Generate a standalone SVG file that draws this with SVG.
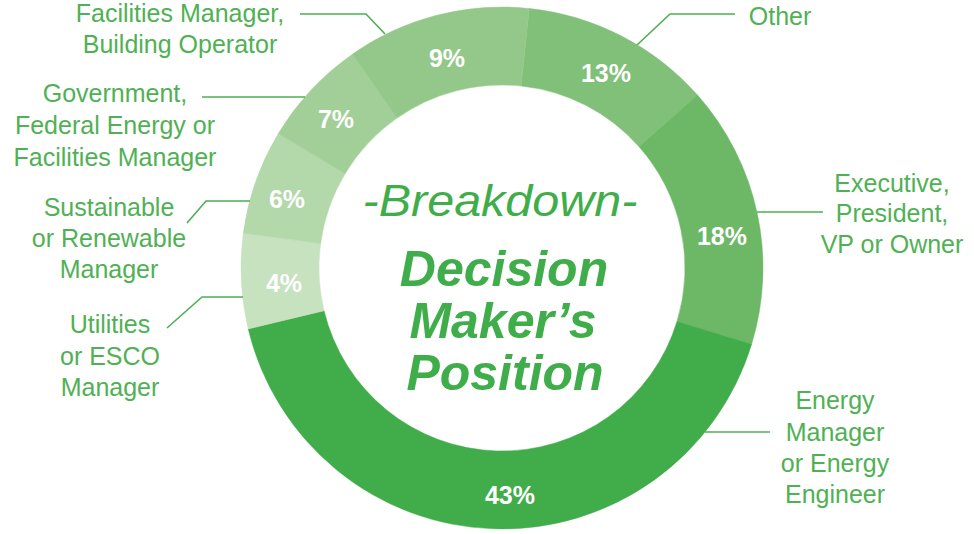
<svg xmlns="http://www.w3.org/2000/svg" width="974" height="534" viewBox="0 0 974 534">
  <style>
    .lbl { font-family: "Liberation Sans", Arial, sans-serif; font-size: 25px; fill: #50b154; text-anchor: middle; }
    .pct { font-family: "Liberation Sans", Arial, sans-serif; font-size: 25px; font-weight: bold; fill: #ffffff; text-anchor: middle; }
    .conn { fill: none; stroke: #4cb050; stroke-width: 1.6; }
    .ttl { font-family: "Liberation Sans", Arial, sans-serif; fill: #3fae4a; text-anchor: middle; font-style: italic; }
  </style>
  <rect width="974" height="534" fill="#ffffff"/>

  <g id="seg-other">
    <path d="M 529.28 8.43 A 261 261 0 0 1 697.48 95.06 L 639.06 146.74 A 183 183 0 0 0 521.13 86.00 Z" fill="#80c078" stroke="#80c078" stroke-width="0.5"/>
    <text class="pct" x="606" y="82">13%</text>
    <text class="lbl" x="780" y="25">Other</text>
  </g>

  <g id="seg-executive">
    <path d="M 697.48 95.06 A 261 261 0 0 1 751.59 344.31 L 677.00 321.50 A 183 183 0 0 0 639.06 146.74 Z" fill="#6db866" stroke="#6db866" stroke-width="0.5"/>
    <text class="pct" x="722" y="245">18%</text>
    <text class="lbl" x="892" y="192">Executive,</text>
    <text class="lbl" x="892" y="222">President,</text>
    <text class="lbl" x="892" y="253">VP or Owner</text>
  </g>

  <g id="seg-energy">
    <path d="M 751.59 344.31 A 261 261 0 0 1 248.21 328.93 L 324.06 310.72 A 183 183 0 0 0 677.00 321.50 Z" fill="#41ac4a" stroke="#41ac4a" stroke-width="0.5"/>
    <text class="pct" x="510" y="504">43%</text>
    <text class="lbl" x="835" y="409">Energy</text>
    <text class="lbl" x="835" y="441">Manager</text>
    <text class="lbl" x="835" y="472">or Energy</text>
    <text class="lbl" x="835" y="503">Engineer</text>
  </g>

  <g id="seg-utilities">
    <path d="M 248.21 328.93 A 261 261 0 0 1 243.35 233.03 L 320.65 243.48 A 183 183 0 0 0 324.06 310.72 Z" fill="#c6e2be" stroke="#c6e2be" stroke-width="0.5"/>
    <text class="pct" x="284" y="292">4%</text>
    <text class="lbl" x="110" y="333">Utilities</text>
    <text class="lbl" x="110" y="365">or ESCO</text>
    <text class="lbl" x="110" y="396">Manager</text>
  </g>

  <g id="seg-sustainable">
    <path d="M 243.35 233.03 A 261 261 0 0 1 278.28 133.57 L 345.14 173.75 A 183 183 0 0 0 320.65 243.48 Z" fill="#b3d8aa" stroke="#b3d8aa" stroke-width="0.5"/>
    <text class="pct" x="287" y="208">6%</text>
    <text class="lbl" x="109" y="216">Sustainable</text>
    <text class="lbl" x="109" y="247">or Renewable</text>
    <text class="lbl" x="109" y="278">Manager</text>
  </g>

  <g id="seg-government">
    <path d="M 278.28 133.57 A 261 261 0 0 1 352.30 54.20 L 397.03 118.10 A 183 183 0 0 0 345.14 173.75 Z" fill="#a2cf98" stroke="#a2cf98" stroke-width="0.5"/>
    <text class="pct" x="336" y="128">7%</text>
    <text class="lbl" x="115" y="102">Government,</text>
    <text class="lbl" x="115" y="134">Federal Energy or</text>
    <text class="lbl" x="115" y="166">Facilities Manager</text>
  </g>

  <g id="seg-facilities">
    <path d="M 352.30 54.20 A 261 261 0 0 1 529.28 8.43 L 521.13 86.00 A 183 183 0 0 0 397.03 118.10 Z" fill="#94c88a" stroke="#94c88a" stroke-width="0.5"/>
    <text class="pct" x="447" y="67">9%</text>
    <text class="lbl" x="180" y="22">Facilities Manager,</text>
    <text class="lbl" x="180" y="53">Building Operator</text>
  </g>

  <g id="connectors">
    <polyline class="conn" points="300,14 366,14 385,34"/>
    <polyline class="conn" points="202,97 305,97"/>
    <polyline class="conn" points="187,223 206,201 250,201"/>
    <polyline class="conn" points="167,328 202,297 243,297"/>
    <polyline class="conn" points="637,45 670,14 735,14"/>
    <polyline class="conn" points="757,212 823,212"/>
    <polyline class="conn" points="705,432 770,432"/>
  </g>

  <g id="title">
    <text class="ttl" x="500" y="216" font-size="44" textLength="275" lengthAdjust="spacingAndGlyphs">-Breakdown-</text>
    <text class="ttl" x="504" y="286" font-size="50" font-weight="bold">Decision</text>
    <text class="ttl" x="503" y="338" font-size="50" font-weight="bold">Maker’s</text>
    <text class="ttl" x="505" y="390" font-size="50" font-weight="bold">Position</text>
  </g>
</svg>
